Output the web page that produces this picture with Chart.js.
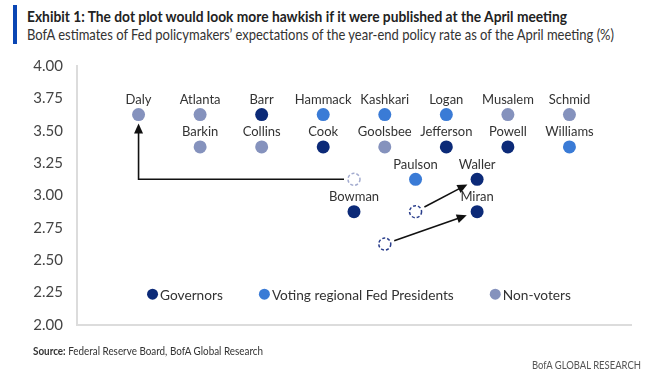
<!DOCTYPE html>
<html><head><meta charset="utf-8">
<script src="https://cdn.jsdelivr.net/npm/chart.js@4"></script>
<style>
html,body{margin:0;padding:0;background:#fff;}
#wrap{position:relative;width:662px;height:375px;overflow:hidden;font-family:Lato,"Open Sans",sans-serif;}
#bar{position:absolute;left:13px;top:5px;width:4px;height:39px;background:#0a46b4;}
.fit{position:absolute;white-space:nowrap;transform-origin:0 0;line-height:1;}
#title{left:27px;top:9px;font-size:15px;font-weight:bold;color:#222;}
#sub{left:27px;top:27px;font-size:15px;color:#333;}
#src{left:33px;top:345px;font-size:12px;color:#333;}
#foot{left:532px;top:359px;font-size:12px;color:#555;}
canvas{position:absolute;left:0;top:0;}
</style></head>
<body><div id="wrap">
<div id="bar"></div>
<div id="title" class="fit" data-w="540">Exhibit 1: The dot plot would look more hawkish if it were published at the April meeting</div>
<div id="sub" class="fit" data-w="587">BofA estimates of Fed policymakers’ expectations of the year-end policy rate as of the April meeting (%)</div>
<canvas id="c" width="662" height="375"></canvas>
<div id="src" class="fit" data-w="230"><b>Source:</b> Federal Reserve Board, BofA Global Research</div>
<div id="foot" class="fit" data-w="109">BofA GLOBAL RESEARCH</div>
</div>
<script>
// ---- data ----
const names  = ["Daly","Atlanta","Barr","Hammack","Kashkari","Logan","Musalem","Schmid",
                "Barkin","Collins","Cook","Goolsbee","Jefferson","Powell","Williams",
                "Paulson","Waller","Bowman","Miran"];
const slots  = [1,2,3,4,5,6,7,8, 2,3,4,5,6,7,8, 5.5,6.5,4.5,6.5];
const rates  = [3.625,3.625,3.625,3.625,3.625,3.625,3.625,3.625,
                3.375,3.375,3.375,3.375,3.375,3.375,3.375,
                3.125,3.125,2.875,2.875];
const groups = ["N","N","G","V","V","V","N","N",
                "N","N","G","N","G","G","V",
                "V","G","G","G"];
const groupKeys   = ["G","V","N"];
const groupLabels = ["Governors","Voting regional Fed Presidents","Non-voters"];
const groupColors = ["#0c2a78","#3a7bd6","#8592bd"];
// March estimates (open circles) and who moved
const movers     = ["Daly","Waller","Miran"];
const prevSlots  = [4.5,5.5,5.0];
const prevRates  = [3.125,2.875,2.625];
const prevColors = ["#a3abcf","#2b3f8c","#2b3f8c"];
const yTicks = [2.00,2.25,2.50,2.75,3.00,3.25,3.50,3.75,4.00];

document.querySelectorAll('.fit').forEach(el=>{
  const w=el.getBoundingClientRect().width, t=+el.dataset.w;
  el.style.transform='scaleX('+(t/w)+')';
});

const FONT = 'Lato,"Open Sans",sans-serif';
Chart.defaults.font.family = FONT;

const datasets = groupKeys.map((k,gi)=>({
  label: groupLabels[gi],
  data: names.map((n,i)=>groups[i]===k?{x:slots[i],y:rates[i],name:n}:null).filter(Boolean),
  backgroundColor: groupColors[gi],
  borderColor: groupColors[gi],
  pointRadius: 6.5, pointHoverRadius: 6.5, borderWidth: 0
}));

function arrowHead(ctx,x1,y1,x2,y2){
  const a=Math.atan2(y2-y1,x2-x1), L=10, W=4.5;
  ctx.beginPath();
  ctx.moveTo(x2,y2);
  ctx.lineTo(x2-L*Math.cos(a)+W*Math.sin(a), y2-L*Math.sin(a)-W*Math.cos(a));
  ctx.lineTo(x2-L*Math.cos(a)-W*Math.sin(a), y2-L*Math.sin(a)+W*Math.cos(a));
  ctx.closePath(); ctx.fill();
}

const annot = {
  id:'annot',
  afterDatasetsDraw(chart){
    const ctx=chart.ctx, xs=chart.scales.x, ys=chart.scales.y;
    ctx.save();
    // names
    ctx.font='13px '+FONT; ctx.fillStyle='#333'; ctx.textAlign='center'; ctx.textBaseline='middle';
    names.forEach((n,i)=>{ ctx.fillText(n, xs.getPixelForValue(slots[i]), ys.getPixelForValue(rates[i])-15); });
    // open dashed circles
    ctx.lineWidth=1.5; ctx.setLineDash([3,2]);
    prevSlots.forEach((s,i)=>{
      ctx.strokeStyle=prevColors[i];
      ctx.beginPath(); ctx.arc(xs.getPixelForValue(s), ys.getPixelForValue(prevRates[i]), 6, 0, Math.PI*2); ctx.stroke();
    });
    ctx.setLineDash([]);
    // arrows
    ctx.strokeStyle='#111'; ctx.fillStyle='#111'; ctx.lineWidth=1.6;
    movers.forEach((m,i)=>{
      const j=names.indexOf(m);
      const x1=xs.getPixelForValue(prevSlots[i]), y1=ys.getPixelForValue(prevRates[i]);
      const x2=xs.getPixelForValue(slots[j]), y2=ys.getPixelForValue(rates[j]);
      if(i===0){ // elbow: left then up
        const sx=x1-10, ty=y2+9;
        ctx.beginPath(); ctx.moveTo(sx,y1); ctx.lineTo(x2,y1); ctx.lineTo(x2,ty+8); ctx.stroke();
        arrowHead(ctx,x2,y1,x2,ty);
      } else {
        const a=Math.atan2(y2-y1,x2-x1);
        const sx=x1+10*Math.cos(a), sy=y1+10*Math.sin(a);
        const tx=x2-11*Math.cos(a), ty=y2-11*Math.sin(a);
        ctx.beginPath(); ctx.moveTo(sx,sy); ctx.lineTo(tx-8*Math.cos(a),ty-8*Math.sin(a)); ctx.stroke();
        arrowHead(ctx,sx,sy,tx,ty);
      }
    });
    // legend
    ctx.font='13.7px '+FONT; ctx.textAlign='left'; ctx.textBaseline='middle';
    const ly=ys.getPixelForValue(2.25)+1.5, r=5.5, gapDot=2, gapItem=36;
    const widths=groupLabels.map(t=>ctx.measureText(t).width);
    let total=widths.reduce((a,b)=>a+b,0)+groupLabels.length*(2*r+gapDot)+gapItem*(groupLabels.length-1);
    let x=(chart.chartArea.left+chart.chartArea.right)/2-total/2+5;
    groupLabels.forEach((t,i)=>{
      ctx.fillStyle=groupColors[i]; ctx.beginPath(); ctx.arc(x+r,ly,r,0,Math.PI*2); ctx.fill();
      ctx.fillStyle='#333'; ctx.fillText(t,x+2*r+gapDot,ly+1);
      x+=2*r+gapDot+widths[i]+gapItem;
    });
    ctx.restore();
  }
};

new Chart(document.getElementById('c'),{
  type:'scatter',
  data:{datasets},
  options:{
    responsive:false, animation:false,
    layout:{padding:{top:66,right:31,bottom:50,left:0}},
    plugins:{legend:{display:false},tooltip:{enabled:false},title:{display:false}},
    scales:{
      x:{min:0,max:9,ticks:{display:false},grid:{display:false,drawTicks:false},
         border:{display:true,color:'#dcdcdc',width:2}},
      y:{min:2,max:4,afterBuildTicks:(s)=>{s.ticks=yTicks.map(v=>({value:v}));},
         afterFit:(s)=>{s.width=77;},
         ticks:{padding:14,color:'#444',font:{size:15,family:FONT},callback:(v)=>Number(v).toFixed(2)},
         grid:{display:false,drawTicks:false},
         border:{display:true,color:'#dcdcdc',width:2}}
    }
  },
  plugins:[annot]
});
</script>
</body></html>
